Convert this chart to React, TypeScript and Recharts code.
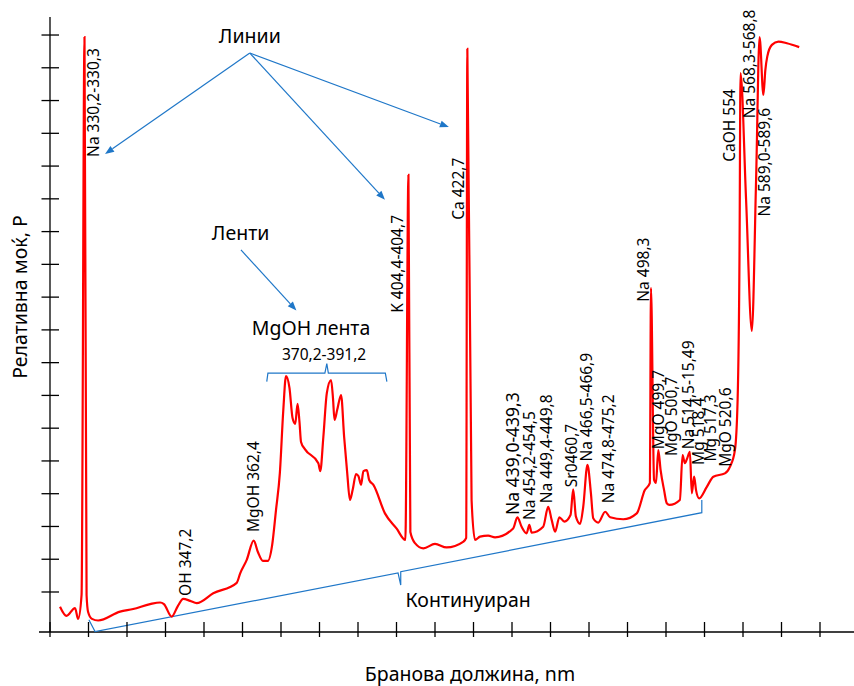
import {
  ComposedChart,
  Line,
  Scatter,
  XAxis,
  YAxis,
  ReferenceLine,
} from "recharts";

const W = 854;
const H = 686;
const FONT = "'Noto Sans', sans-serif";
const RED = "#ff0000";
const BLUE = "#1f77c8";

// axis units: one tick step = 1 unit
const X_LEFT = -0.286;
const X_MAX = 20.883;
const Y_MIN = -1.221;
const Y_MAX = 17.55;

const xTicks = [0, 1, 2, 3, 4, 5, 6, 7, 8, 9, 10, 11, 12, 13, 14, 15, 16, 17, 18, 19, 20];
const yTicks = [0, 1, 2, 3, 4, 5, 6, 7, 8, 9, 10, 11, 12, 13, 14, 15, 16, 17];

// emission spectrum, relative power
const spectrum = [
  { x: 0.26, y: -0.45 }, { x: 0.43, y: -0.73 }, { x: 0.65, y: -0.49 }, { x: 0.73, y: -0.82 },
  { x: 0.82, y: -0.09 }, { x: 0.896, y: 16.94 }, { x: 0.95, y: -0.09 }, { x: 0.99, y: -0.61 },
  { x: 1.09, y: -0.82 }, { x: 1.25, y: -0.87 }, { x: 1.82, y: -0.6 }, { x: 2.16, y: -0.52 },
  { x: 2.6, y: -0.37 }, { x: 2.86, y: -0.32 }, { x: 2.96, y: -0.37 }, { x: 3.16, y: -0.75 },
  { x: 3.32, y: -0.43 }, { x: 3.46, y: -0.21 }, { x: 3.64, y: -0.27 }, { x: 3.81, y: -0.34 },
  { x: 4.24, y: -0.04 }, { x: 4.85, y: 0.28 }, { x: 4.94, y: 0.57 }, { x: 5.11, y: 0.98 },
  { x: 5.29, y: 1.57 }, { x: 5.4, y: 1.22 }, { x: 5.53, y: 0.95 }, { x: 5.66, y: 0.95 },
  { x: 5.77, y: 1.43 }, { x: 5.87, y: 2.5 }, { x: 5.97, y: 3.63 }, { x: 6.06, y: 5.56 },
  { x: 6.13, y: 6.59 }, { x: 6.22, y: 6.23 }, { x: 6.3, y: 5.31 }, { x: 6.37, y: 5.13 },
  { x: 6.43, y: 5.74 }, { x: 6.48, y: 5.19 }, { x: 6.52, y: 4.58 }, { x: 6.62, y: 4.36 },
  { x: 6.97, y: 3.93 }, { x: 7.02, y: 3.69 }, { x: 7.1, y: 4.73 }, { x: 7.19, y: 6.07 },
  { x: 7.3, y: 6.47 }, { x: 7.35, y: 5.92 }, { x: 7.39, y: 5.25 }, { x: 7.46, y: 5.56 },
  { x: 7.56, y: 6.01 }, { x: 7.64, y: 4.73 }, { x: 7.72, y: 3.63 }, { x: 7.79, y: 2.81 },
  { x: 7.86, y: 3.11 }, { x: 7.95, y: 3.6 }, { x: 8.01, y: 3.54 }, { x: 8.08, y: 3.27 },
  { x: 8.14, y: 3.69 }, { x: 8.23, y: 3.72 }, { x: 8.29, y: 3.42 }, { x: 8.4, y: 3.27 },
  { x: 8.7, y: 2.4 }, { x: 9.0, y: 1.94 }, { x: 9.23, y: 1.59 }, { x: 9.31, y: 12.73 },
  { x: 9.36, y: 1.83 }, { x: 9.48, y: 1.49 }, { x: 9.7, y: 1.33 }, { x: 10.0, y: 1.47 },
  { x: 10.3, y: 1.36 }, { x: 10.74, y: 1.54 }, { x: 10.81, y: 1.65 }, { x: 10.84, y: 16.58 },
  { x: 10.95, y: 2.81 }, { x: 11.04, y: 1.59 }, { x: 11.17, y: 1.69 }, { x: 11.38, y: 1.72 },
  { x: 11.56, y: 1.67 }, { x: 12.03, y: 1.94 }, { x: 12.14, y: 2.28 }, { x: 12.25, y: 1.99 },
  { x: 12.38, y: 1.79 }, { x: 12.45, y: 2.05 }, { x: 12.51, y: 1.81 }, { x: 12.81, y: 1.99 },
  { x: 12.94, y: 2.6 }, { x: 13.03, y: 2.2 }, { x: 13.12, y: 1.84 }, { x: 13.23, y: 2.28 },
  { x: 13.36, y: 2.15 }, { x: 13.52, y: 2.35 }, { x: 13.59, y: 3.13 }, { x: 13.66, y: 2.3 },
  { x: 13.77, y: 2.08 }, { x: 13.85, y: 2.6 }, { x: 13.96, y: 3.88 }, { x: 14.05, y: 3.01 },
  { x: 14.11, y: 2.25 }, { x: 14.24, y: 2.12 }, { x: 14.42, y: 2.45 }, { x: 14.55, y: 2.28 },
  { x: 14.89, y: 2.22 }, { x: 15.24, y: 2.4 }, { x: 15.45, y: 3.11 }, { x: 15.58, y: 3.32 },
  { x: 15.61, y: 9.28 }, { x: 15.69, y: 3.42 }, { x: 15.74, y: 3.33 }, { x: 15.8, y: 4.33 },
  { x: 15.86, y: 3.72 }, { x: 15.95, y: 3.11 }, { x: 16.02, y: 2.71 }, { x: 16.09, y: 2.66 },
  { x: 16.36, y: 2.81 }, { x: 16.43, y: 4.18 }, { x: 16.49, y: 3.93 }, { x: 16.55, y: 4.08 },
  { x: 16.62, y: 4.28 }, { x: 16.67, y: 3.01 }, { x: 16.73, y: 3.52 }, { x: 16.78, y: 3.11 },
  { x: 16.86, y: 2.86 }, { x: 17.06, y: 3.21 }, { x: 17.23, y: 3.52 }, { x: 17.53, y: 3.62 },
  { x: 17.66, y: 3.82 }, { x: 17.79, y: 4.33 }, { x: 17.86, y: 5.86 }, { x: 17.91, y: 10.44 },
  { x: 17.935, y: 15.84 }, { x: 18.08, y: 11.97 }, { x: 18.23, y: 7.97 }, { x: 18.34, y: 12.58 },
  { x: 18.43, y: 16.94 }, { x: 18.53, y: 15.17 }, { x: 18.58, y: 15.93 }, { x: 18.63, y: 16.34 },
  { x: 18.75, y: 16.7 }, { x: 18.92, y: 16.8 }, { x: 19.14, y: 16.75 }, { x: 19.46, y: 16.63 },
];

// vertical peak labels, anchored at the start of the text
const peakLabels = [
  { x: 1.27, y: 13.28, text: "Na 330,2-330,3" },
  { x: 3.65, y: -0.12, text: "OH 347,2" },
  { x: 5.43, y: 1.83, text: "MgOH 362,4" },
  { x: 9.17, y: 8.52, text: "K 404,4-404,7" },
  { x: 10.75, y: 11.36, text: "Ca 422,7" },
  { x: 12.19, y: 2.35, text: "Na 439,0-439,3" },
  { x: 12.61, y: 2.2, text: "Na 454,2-454,5" },
  { x: 13.04, y: 2.71, text: "Na 449,4-449,8" },
  { x: 13.69, y: 3.2, text: "Sr0460,7" },
  { x: 14.08, y: 3.98, text: "Na 466,5-466,9" },
  { x: 14.65, y: 2.71, text: "Na 474,8-475,2" },
  { x: 15.56, y: 8.86, text: "Na 498,3" },
  { x: 15.95, y: 4.36, text: "MgO 499,7" },
  { x: 16.29, y: 4.15, text: "MgO 500,7" },
  { x: 16.73, y: 4.36, text: "Na 514,5-15,49" },
  { x: 16.99, y: 3.88, text: "Mg 518,4" },
  { x: 17.29, y: 3.98, text: "Mg 517,3" },
  { x: 17.68, y: 3.82, text: "MgO 520,6" },
  { x: 17.79, y: 13.13, text: "CaOH 554" },
  { x: 18.32, y: 14.46, text: "Na 568,3-568,8" },
  { x: 18.71, y: 11.46, text: "Na 589,0-589,6" },
];

// horizontal notes, centred
const notes = [
  { x: 5.19, y: 16.76, text: "Линии" },
  { x: 4.95, y: 10.74, text: "Ленти" },
  { x: 6.78, y: 7.84, text: "MgOH лента" },
  { x: 7.12, y: 7.08, text: "370,2-391,2" },
  { x: 10.86, y: -0.45, text: "Континуиран" },
];

const mgohBrace = [
  { x: 5.63, y: 6.42 }, { x: 5.66, y: 6.68 }, { x: 7.14, y: 6.68 }, { x: 7.19, y: 6.97 },
  { x: 7.23, y: 6.68 }, { x: 8.71, y: 6.68 }, { x: 8.75, y: 6.42 },
];

const continuumBrace = [
  { x: 1.01, y: -0.85 }, { x: 1.17, y: -1.21 }, { x: 9.04, y: 0.58 }, { x: 9.11, y: 0.21 },
  { x: 9.11, y: 0.62 }, { x: 16.93, y: 2.42 }, { x: 16.93, y: 2.81 },
];

const arrows = [
  { from: { x: 5.19, y: 16.45 }, to: { x: 1.43, y: 13.37 } },
  { from: { x: 5.19, y: 16.45 }, to: { x: 8.7, y: 11.97 } },
  { from: { x: 5.19, y: 16.45 }, to: { x: 10.36, y: 14.19 } },
  { from: { x: 4.96, y: 10.44 }, to: { x: 6.4, y: 8.59 } },
];

const labelSizeOverride: Record<string, number> = { "Na 439,0-439,3": 17.5 };

const XTick = (p: any) => (
  <line x1={p.x} x2={p.x} y1={p.y - 10} y2={p.y + 5} stroke="#000" strokeWidth={1.3} />
);

const YTick = (p: any) => (
  <line x1={p.x - 8.5} x2={p.x + 9} y1={p.y} y2={p.y} stroke="#000" strokeWidth={1.3} />
);

const VerticalLabel = (p: any) => (
  <text
    x={p.cx}
    y={p.cy}
    transform={`rotate(-90 ${p.cx} ${p.cy})`}
    fontSize={labelSizeOverride[p.payload.text] || 15.5}
    fontFamily={FONT}
    fill="#000"
  >
    {p.payload.text}
  </text>
);

const NoteLabel = (p: any) => (
  <text
    x={p.cx}
    y={p.cy}
    textAnchor="middle"
    fontSize={p.payload.text.startsWith("370") ? 15.5 : 19.5}
    fontFamily={FONT}
    fill="#000"
  >
    {p.payload.text}
  </text>
);

const ArrowShape = (p: any) => {
  const { x1, y1, x2, y2 } = p;
  const a = Math.atan2(y2 - y1, x2 - x1);
  const len = 9;
  const half = 3.5;
  const bx = x2 - len * Math.cos(a);
  const by = y2 - len * Math.sin(a);
  const pts = `${x2},${y2} ${bx + half * Math.sin(a)},${by - half * Math.cos(a)} ${bx - half * Math.sin(a)},${by + half * Math.cos(a)}`;
  return (
    <g>
      <line x1={x1} y1={y1} x2={bx} y2={by} stroke={BLUE} strokeWidth={1.2} />
      <polygon points={pts} fill={BLUE} />
    </g>
  );
};

export default function App() {
  return (
    <div style={{ position: "absolute", left: 0, top: 0, width: W, height: H, background: "#fff" }}>
      <ComposedChart width={W} height={H} margin={{ top: 17, right: 0, bottom: 53, left: 49 }}>
        <XAxis
          type="number"
          dataKey="x"
          domain={[0, X_MAX]}
          ticks={xTicks}
          interval={0}
          height={1}
          axisLine={false}
          tickLine={false}
          tickSize={0}
          tickMargin={0}
          tick={XTick}
        />
        <YAxis
          type="number"
          dataKey="y"
          domain={[Y_MIN, Y_MAX]}
          ticks={yTicks}
          interval={0}
          width={1}
          axisLine={false}
          tickLine={false}
          tickSize={0}
          tickMargin={0}
          tick={YTick}
        />
        <ReferenceLine
          segment={[{ x: 0, y: Y_MIN }, { x: 0, y: Y_MAX }]}
          stroke="#000"
          strokeWidth={1.3}
          ifOverflow="visible"
        />
        <ReferenceLine
          segment={[{ x: X_LEFT, y: Y_MIN }, { x: X_MAX, y: Y_MIN }]}
          stroke="#000"
          strokeWidth={1.3}
          ifOverflow="visible"
        />
        {arrows.map((a, i) => (
          <ReferenceLine key={i} segment={[a.from, a.to]} shape={ArrowShape} ifOverflow="visible" />
        ))}
        <Line data={mgohBrace} dataKey="y" type="linear" stroke={BLUE} strokeWidth={1.2} dot={false} activeDot={false} isAnimationActive={false} />
        <Line data={continuumBrace} dataKey="y" type="linear" stroke={BLUE} strokeWidth={1.2} dot={false} activeDot={false} isAnimationActive={false} />
        <Line data={spectrum} dataKey="y" type="monotone" stroke={RED} strokeWidth={2.2} dot={false} activeDot={false} isAnimationActive={false} />
        <Scatter data={peakLabels} shape={VerticalLabel} isAnimationActive={false} />
        <Scatter data={notes} shape={NoteLabel} isAnimationActive={false} />
      </ComposedChart>
      <svg width={W} height={H} style={{ position: "absolute", left: 0, top: 0, pointerEvents: "none" }}>
        <text x={470} y={681} textAnchor="middle" fontSize={19.5} fontFamily={FONT} fill="#000">
          Бранова должина, nm
        </text>
        <text x={27} y={297} transform="rotate(-90 27 297)" textAnchor="middle" fontSize={19.5} fontFamily={FONT} fill="#000">
          Релативна моќ, P
        </text>
      </svg>
    </div>
  );
}
